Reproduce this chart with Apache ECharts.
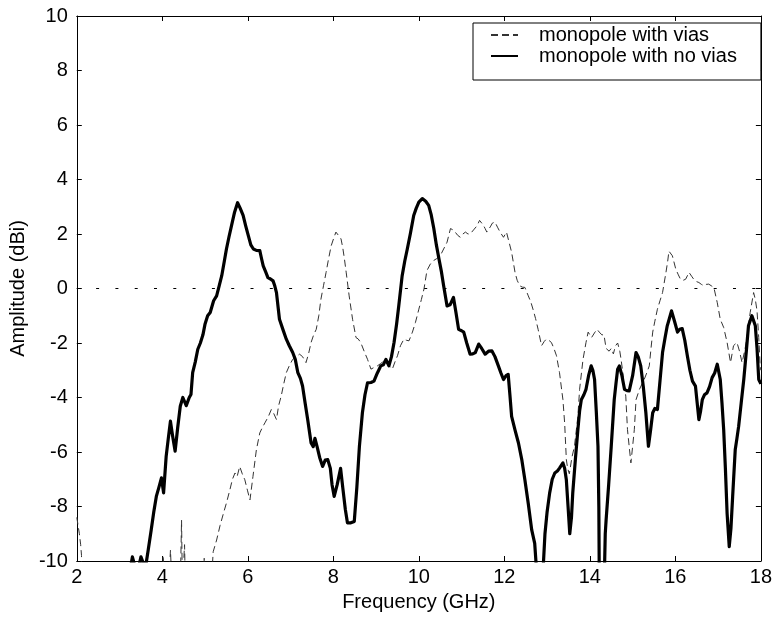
<!DOCTYPE html>
<html>
<head>
<meta charset="utf-8">
<script src="https://cdn.jsdelivr.net/npm/echarts@6/dist/echarts.min.js"></script>
<style>
html,body{margin:0;padding:0;background:#fff;}
#chart{width:775px;height:619px;}
</style>
</head>
<body>
<div id="chart"></div>
<script>
// Series: monopole with no vias (thick solid)
const freqNoVias = [3.0,3.25,3.3,3.36,3.45,3.5,3.56,3.62,3.67,3.74,3.8,3.86,3.92,3.98,4.03,4.09,4.14,4.19,4.24,4.30,4.36,4.42,4.48,4.56,4.63,4.67,4.71,4.77,4.83,4.89,4.95,5.0,5.06,5.12,5.2,5.27,5.33,5.39,5.45,5.5,5.56,5.62,5.69,5.76,5.82,5.89,5.95,6.01,6.07,6.13,6.2,6.28,6.32,6.36,6.42,6.47,6.53,6.59,6.63,6.67,6.74,6.82,6.90,6.97,7.05,7.11,7.17,7.23,7.28,7.34,7.40,7.48,7.53,7.57,7.62,7.68,7.75,7.81,7.87,7.93,7.97,8.02,8.09,8.17,8.22,8.28,8.33,8.41,8.49,8.55,8.61,8.68,8.74,8.80,8.88,8.95,9.03,9.11,9.17,9.23,9.30,9.36,9.42,9.48,9.53,9.61,9.67,9.73,9.80,9.88,9.94,10.0,10.08,10.16,10.23,10.29,10.35,10.41,10.47,10.53,10.58,10.66,10.73,10.81,10.87,10.93,11.0,11.05,11.12,11.2,11.26,11.32,11.40,11.47,11.55,11.63,11.71,11.78,11.86,11.92,11.98,12.04,12.09,12.13,12.17,12.25,12.33,12.41,12.48,12.56,12.64,12.71,12.76,12.9,12.95,13.0,13.06,13.12,13.18,13.24,13.29,13.37,13.41,13.45,13.49,13.53,13.57,13.60,13.66,13.72,13.76,13.80,13.86,13.91,13.97,14.03,14.07,14.11,14.15,14.19,14.21,14.22,14.34,14.36,14.38,14.44,14.50,14.57,14.61,14.65,14.69,14.75,14.81,14.87,14.92,15.0,15.08,15.13,15.19,15.25,15.31,15.37,15.42,15.47,15.52,15.58,15.64,15.70,15.76,15.81,15.86,15.91,15.98,16.05,16.10,16.16,16.22,16.28,16.34,16.40,16.47,16.51,16.55,16.59,16.63,16.68,16.74,16.80,16.86,16.92,16.98,17.05,17.09,17.13,17.17,17.21,17.26,17.30,17.34,17.40,17.44,17.48,17.54,17.60,17.66,17.71,17.79,17.87,17.91,17.95,18.0];
const ampNoVias = [-11,-10.3,-9.85,-10.2,-10.2,-9.85,-10.1,-10.1,-9.6,-8.86,-8.2,-7.63,-7.3,-6.95,-7.5,-6.16,-5.5,-4.87,-5.4,-5.97,-5.1,-4.32,-4.0,-4.3,-4.0,-3.89,-3.09,-2.7,-2.23,-2.0,-1.7,-1.3,-1.0,-0.88,-0.45,-0.27,0.1,0.47,1.0,1.45,1.9,2.32,2.8,3.15,2.95,2.68,2.3,1.95,1.6,1.45,1.4,1.39,1.1,0.83,0.6,0.40,0.35,0.28,0.1,-0.15,-1.13,-1.5,-1.86,-2.1,-2.35,-2.6,-3.09,-3.3,-3.58,-4.2,-4.81,-5.67,-5.8,-5.5,-5.8,-6.2,-6.53,-6.3,-6.28,-6.6,-7.2,-7.63,-7.2,-6.6,-7.3,-8.1,-8.6,-8.6,-8.55,-7.3,-5.79,-4.56,-3.9,-3.46,-3.45,-3.4,-3.1,-2.84,-2.8,-2.6,-2.84,-2.5,-1.98,-1.3,-0.64,0.47,1.0,1.45,2.0,2.68,2.95,3.17,3.3,3.2,3.05,2.7,2.2,1.6,1.09,0.6,0.1,-0.64,-0.6,-0.33,-0.9,-1.5,-1.55,-1.6,-2.0,-2.41,-2.4,-2.35,-2.04,-2.2,-2.41,-2.3,-2.29,-2.5,-2.84,-3.1,-3.34,-3.2,-3.15,-3.9,-4.69,-5.2,-5.67,-6.3,-7.02,-7.9,-8.86,-9.35,-10.5,-10.5,-9.0,-8.2,-7.5,-7.0,-6.77,-6.7,-6.59,-6.4,-6.6,-7.02,-8.0,-9.0,-8.4,-7.5,-6.3,-5.18,-4.5,-4.08,-3.9,-3.7,-3.2,-2.84,-3.0,-3.34,-4.5,-5.79,-8.0,-10.5,-10.5,-9.0,-8.5,-7.2,-5.79,-4.08,-3.5,-2.96,-2.84,-3.2,-3.7,-3.75,-3.76,-3.2,-2.35,-2.5,-2.84,-3.6,-4.56,-5.79,-5.2,-4.56,-4.4,-4.44,-3.4,-2.35,-1.8,-1.37,-1.1,-0.82,-1.2,-1.6,-1.5,-1.47,-1.9,-2.47,-3.0,-3.4,-3.58,-4.2,-4.81,-4.5,-4.08,-3.9,-3.83,-3.6,-3.27,-3.1,-2.78,-3.34,-4.2,-5.18,-6.6,-8.25,-9.47,-8.8,-7.63,-5.92,-5.5,-5.06,-4.2,-3.34,-2.3,-1.37,-1.0,-1.37,-2.2,-3.34,-3.5];

// Series: monopole with vias (thin dashed)
const freqVias = [2.0,2.03,2.06,2.09,2.11,2.12,4.0,4.02,4.04,4.15,4.19,4.23,4.42,4.45,4.47,4.5,4.52,4.54,4.96,4.98,5.0,5.14,5.19,5.27,5.35,5.43,5.50,5.58,5.64,5.70,5.75,5.81,5.87,5.93,5.99,6.05,6.12,6.20,6.28,6.34,6.40,6.48,6.55,6.61,6.67,6.72,6.78,6.84,6.90,6.98,7.05,7.13,7.21,7.28,7.36,7.42,7.48,7.54,7.60,7.66,7.71,7.77,7.83,7.89,7.95,8.01,8.06,8.12,8.18,8.22,8.26,8.3,8.37,8.45,8.53,8.58,8.64,8.72,8.80,8.88,8.95,9.03,9.11,9.19,9.28,9.38,9.44,9.50,9.57,9.65,9.71,9.77,9.85,9.92,10.0,10.06,10.12,10.19,10.27,10.35,10.42,10.5,10.58,10.66,10.74,10.80,10.85,10.91,10.97,11.03,11.09,11.15,11.20,11.28,11.36,11.42,11.47,11.51,11.55,11.59,11.67,11.72,11.78,11.84,11.90,11.98,12.05,12.11,12.17,12.25,12.30,12.36,12.42,12.48,12.56,12.62,12.67,12.73,12.79,12.87,12.93,12.98,13.04,13.10,13.16,13.22,13.29,13.37,13.41,13.45,13.48,13.52,13.58,13.64,13.72,13.76,13.84,13.91,13.96,13.99,14.04,14.07,14.12,14.17,14.22,14.28,14.33,14.38,14.45,14.5,14.55,14.6,14.65,14.7,14.73,14.78,14.84,14.88,14.92,14.96,15.0,15.04,15.08,15.16,15.22,15.27,15.33,15.39,15.43,15.47,15.52,15.58,15.64,15.70,15.78,15.82,15.85,15.88,15.93,16.01,16.07,16.12,16.18,16.24,16.32,16.38,16.43,16.5,16.55,16.61,16.67,16.72,16.78,16.84,16.9,16.98,17.05,17.13,17.21,17.29,17.36,17.44,17.5,17.56,17.62,17.67,17.75,17.83,17.87,17.91,17.95,17.98,18.0];
const ampVias = [-8.4,-8.7,-9.0,-9.4,-9.8,-11,-11,-9.8,-11,-11,-9.6,-11,-11,-8.5,-11,-11,-9.4,-11,-11,-9.9,-11,-11,-9.66,-9.23,-8.7,-8.25,-7.87,-7.39,-7.0,-6.77,-6.9,-6.53,-6.8,-7.02,-7.4,-7.76,-6.9,-5.92,-5.3,-5.1,-4.93,-4.7,-4.44,-4.6,-4.81,-4.3,-3.95,-3.5,-3.09,-2.8,-2.6,-2.5,-2.41,-2.5,-2.72,-2.4,-1.98,-1.7,-1.5,-1.0,-0.39,0.1,0.59,1.1,1.57,1.85,2.07,1.95,1.82,1.5,1.08,0.6,-0.27,-1.13,-1.8,-1.85,-1.98,-2.3,-2.6,-2.96,-2.9,-2.84,-2.75,-2.65,-2.8,-2.96,-2.7,-2.47,-2.1,-1.86,-1.9,-1.92,-1.6,-1.25,-0.76,-0.4,-0.02,0.66,0.9,1.03,1.1,1.2,1.45,1.7,2.2,2.15,2.07,1.95,1.88,2.0,2.07,2.0,2.0,2.15,2.3,2.5,2.4,2.32,2.2,2.07,2.26,2.4,2.44,2.25,2.07,1.88,2.07,1.7,1.33,0.59,0.3,0.1,0.05,0.04,-0.27,-0.5,-0.76,-1.1,-1.5,-2.1,-1.95,-1.86,-1.9,-1.98,-2.2,-2.47,-3.09,-4.08,-4.93,-6.28,-6.6,-6.8,-6.2,-5.79,-4.69,-3.7,-2.6,-1.98,-1.6,-1.6,-1.8,-1.86,-1.6,-1.5,-1.6,-1.7,-1.7,-2.2,-2.3,-2.2,-2.4,-2.1,-2.0,-2.3,-2.6,-3.2,-3.95,-5.18,-5.8,-6.4,-5.8,-5.18,-4.08,-3.7,-3.5,-3.34,-3.1,-2.84,-2.2,-1.6,-1.2,-0.76,-0.45,-0.15,0.59,1.0,1.37,1.4,1.2,0.71,0.5,0.34,0.3,0.34,0.59,0.45,0.34,0.25,0.22,0.15,0.1,0.15,0.16,0.1,0.04,-0.52,-1.13,-1.43,-1.98,-2.72,-2.1,-1.98,-2.3,-2.72,-2.3,-1.86,-0.88,-0.15,-0.4,-0.82,-1.8,-2.72,-3.0];

const seriesNames = ['monopole with vias', 'monopole with no vias'];
const xName = 'Frequency (GHz)';
const yName = 'Amplitude (dBi)';

function pairs(xs, ys) { return xs.map((x, i) => [x, ys[i]]); }

const FONT = '"Liberation Sans", Arial, Helvetica, sans-serif';
const chart = echarts.init(document.getElementById('chart'), null, {renderer: 'canvas'});

const axisCommon = {
  axisLine: {show: true, onZero: false, lineStyle: {color: '#000', width: 1}},
  axisTick: {show: true, inside: true, length: 5, lineStyle: {color: '#000'}},
  splitLine: {show: false}
};

chart.setOption({
  backgroundColor: '#fff',
  animation: false,
  textStyle: {fontFamily: FONT},
  grid: {left: 76, right: 11, top: 16, bottom: 58, containLabel: false},
  legend: {
    orient: 'vertical',
    left: 473, top: 23,
    data: seriesNames,
    backgroundColor: '#fff',
    borderColor: '#000', borderWidth: 1,
    padding: [1.5, 24, 13.5, 17],
    itemWidth: 27, itemHeight: 14, itemGap: 0,
    itemStyle: {opacity: 0, borderWidth: 0},
    textStyle: {fontSize: 20, color: '#000', fontFamily: FONT, lineHeight: 21, padding: [0, 0, 0, 16]}
  },
  xAxis: [
    Object.assign({}, axisCommon, {
      type: 'value', min: 2, max: 18, interval: 2, position: 'bottom',
      axisLabel: {fontSize: 20, color: '#000', margin: 6, fontFamily: FONT},
      name: xName, nameLocation: 'middle', nameGap: 31,
      nameTextStyle: {fontSize: 20, color: '#000', fontFamily: FONT}
    }),
    Object.assign({}, axisCommon, {
      type: 'value', min: 2, max: 18, interval: 2, position: 'top',
      axisLabel: {show: false}
    })
  ],
  yAxis: [
    Object.assign({}, axisCommon, {
      type: 'value', min: -10, max: 10, interval: 2, position: 'left',
      axisLabel: {fontSize: 20, color: '#000', margin: 9, fontFamily: FONT},
      name: yName, nameLocation: 'middle', nameGap: 44, nameRotate: 90,
      nameTextStyle: {fontSize: 20, color: '#000', fontFamily: FONT}
    }),
    Object.assign({}, axisCommon, {
      type: 'value', min: -10, max: 10, interval: 2, position: 'right',
      axisLabel: {show: false}
    })
  ],
  series: [
    {
      name: seriesNames[0], type: 'line', xAxisIndex: 0, yAxisIndex: 0,
      data: pairs(freqVias, ampVias),
      symbol: 'none', clip: true, z: 3,
      lineStyle: {color: '#333', width: 1, type: [7, 4]},
      itemStyle: {color: '#333'},
      markLine: {
        silent: true, symbol: 'none', label: {show: false},
        lineStyle: {color: '#000', width: 1, type: [3, 16.3]},
        data: [{yAxis: 0}]
      }
    },
    {
      name: seriesNames[1], type: 'line', xAxisIndex: 0, yAxisIndex: 0,
      data: pairs(freqNoVias, ampNoVias),
      symbol: 'none', clip: true, z: 4,
      lineStyle: {color: '#000', width: 3.2, join: 'round'},
      itemStyle: {color: '#000'}
    }
  ]
});
</script>
</body>
</html>
